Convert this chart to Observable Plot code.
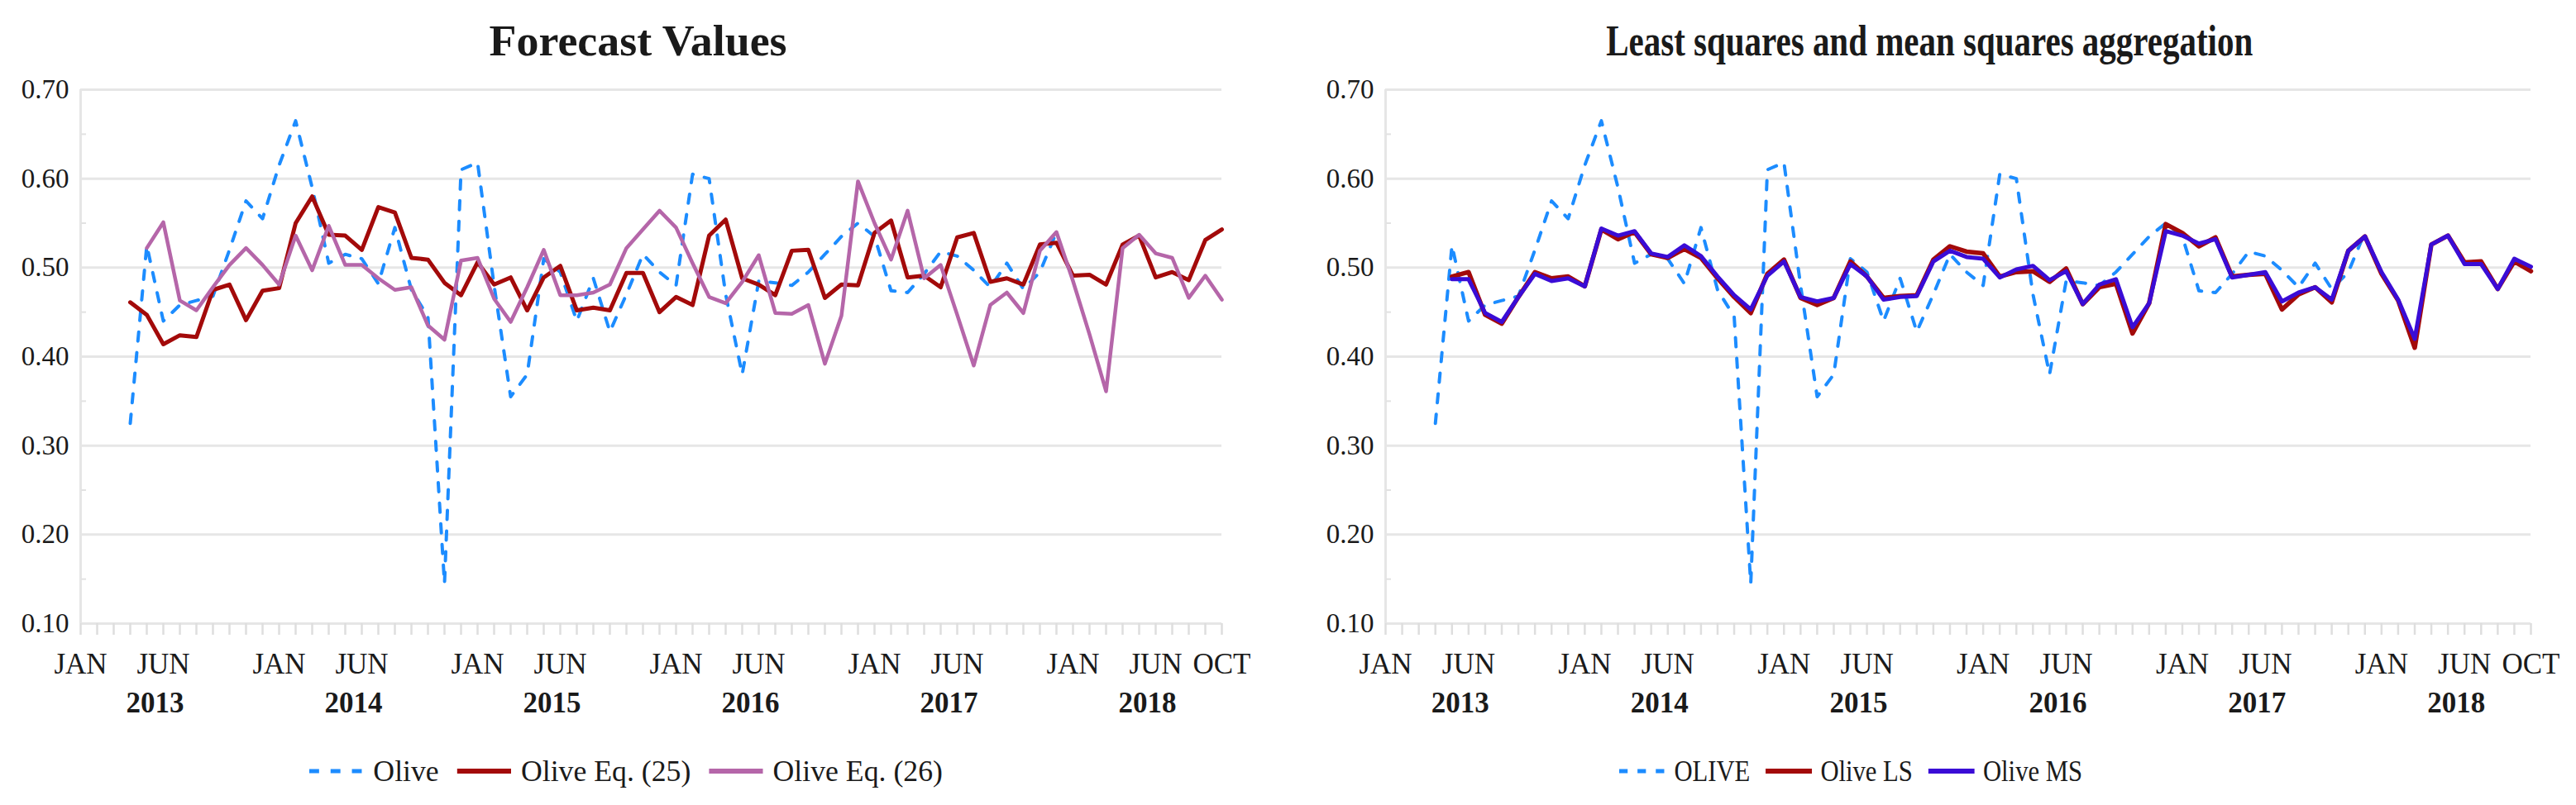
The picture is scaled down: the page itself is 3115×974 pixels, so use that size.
<!DOCTYPE html>
<html>
<head>
<meta charset="utf-8">
<script src="https://cdn.jsdelivr.net/npm/d3@7"></script>
<script src="https://cdn.jsdelivr.net/npm/@observablehq/plot@0.6"></script>
<style>
html,body{margin:0;padding:0;background:#fff;}
body{width:3115px;height:974px;position:relative;overflow:hidden;font-family:"Liberation Serif","DejaVu Serif",serif;color:#1a1a1a;}
.title{position:absolute;top:24px;font-weight:bold;font-size:52px;line-height:52px;white-space:nowrap;transform-origin:center center;}
.chart{position:absolute;top:88px;}
.legend{position:absolute;top:912px;display:flex;align-items:center;font-size:36px;line-height:42px;white-space:nowrap;transform-origin:center center;}
.legend .item{display:flex;align-items:center;margin-right:22px;}
.legend .item:last-child{margin-right:0;}
.legend svg{margin-right:12px;}
svg text{font-family:"Liberation Serif","DejaVu Serif",serif;}
</style>
</head>
<body>
<div id="t1" class="title">Forecast Values</div>
<div id="t2" class="title">Least squares and mean squares aggregation</div>
<div id="c1" class="chart" style="left:0px"></div>
<div id="c2" class="chart" style="left:1578px"></div>
<div id="l1" class="legend"></div>
<div id="l2" class="legend"></div>
<script>
// ---------- data ----------
const months = d3.utcMonths(new Date(Date.UTC(2013,0,1)), new Date(Date.UTC(2018,10,1))).map(d3.utcFormat("%Y-%m"));

const olive = [null,null,null,
 0.325,0.525,0.440,0.458,0.463,0.468,0.520,
 0.575,0.555,0.615,0.665,0.590,0.505,0.515,0.510,0.482,0.545,
 0.475,0.445,0.145,0.610,0.618,0.480,0.355,0.380,0.510,0.495,
 0.440,0.488,0.428,0.470,0.515,0.495,0.480,0.605,0.600,0.470,
 0.380,0.485,0.483,0.480,0.495,0.515,0.535,0.550,0.535,0.474,
 0.472,0.493,0.518,0.513,0.497,0.478,0.505,0.476,0.495,0.540];

const oliveEq25 = [null,null,null,
 0.461,0.447,0.414,0.424,0.422,0.475,0.481,
 0.441,0.474,0.477,0.550,0.580,0.537,0.536,0.520,0.568,0.562,
 0.511,0.509,0.483,0.469,0.506,0.481,0.489,0.452,0.489,0.502,
 0.452,0.455,0.452,0.494,0.494,0.450,0.467,0.458,0.536,0.554,
 0.488,0.481,0.469,0.519,0.520,0.466,0.481,0.480,0.539,0.553,
 0.489,0.491,0.478,0.534,0.539,0.484,0.488,0.481,0.526,0.528,
 0.491,0.492,0.481,0.526,0.536,0.489,0.495,0.486,0.531,0.543];

const oliveEq26 = [null,null,null,null,
 0.522,0.551,0.463,0.452,0.478,0.503,
 0.522,0.503,0.481,0.536,0.497,0.547,0.503,0.503,0.488,0.475,
 0.478,0.435,0.419,0.508,0.511,0.465,0.439,0.478,0.520,0.469,
 0.469,0.472,0.481,0.522,0.543,0.564,0.545,0.505,0.467,0.460,
 0.484,0.514,0.449,0.448,0.458,0.392,0.446,0.597,0.550,0.509,
 0.564,0.488,0.503,0.447,0.390,0.458,0.472,0.449,0.519,0.540,
 0.485,0.425,0.361,0.522,0.537,0.516,0.511,0.466,0.491,0.464];

const oliveLS = [null,null,null,null,
 0.490,0.495,0.447,0.437,0.467,0.495,
 0.488,0.490,0.479,0.543,0.532,0.540,0.515,0.511,0.521,0.511,
 0.488,0.467,0.449,0.493,0.509,0.466,0.458,0.466,0.507,0.490,
 0.466,0.468,0.469,0.509,0.524,0.518,0.516,0.490,0.495,0.496,
 0.484,0.499,0.459,0.478,0.482,0.426,0.460,0.549,0.539,0.524,
 0.534,0.490,0.492,0.493,0.453,0.470,0.478,0.461,0.519,0.535,
 0.493,0.463,0.410,0.526,0.536,0.506,0.507,0.476,0.507,0.496];

const oliveMS = [null,null,null,null,
 0.487,0.487,0.449,0.439,0.467,0.493,
 0.485,0.488,0.479,0.544,0.536,0.541,0.516,0.512,0.525,0.513,
 0.490,0.469,0.453,0.491,0.507,0.467,0.462,0.466,0.504,0.490,
 0.464,0.467,0.468,0.507,0.519,0.512,0.510,0.489,0.498,0.502,
 0.486,0.496,0.459,0.481,0.487,0.433,0.460,0.541,0.536,0.527,
 0.532,0.489,0.492,0.495,0.462,0.472,0.478,0.464,0.519,0.535,
 0.495,0.464,0.420,0.526,0.536,0.504,0.504,0.476,0.510,0.501];

const yTicks = [0.10,0.20,0.30,0.40,0.50,0.60,0.70];
const yMinorTicks = [0.15,0.25,0.35,0.45,0.55,0.65];
const monthTickMonths = ["2013-01","2013-06","2014-01","2014-06","2015-01","2015-06","2016-01","2016-06","2017-01","2017-06","2018-01","2018-06","2018-10"];
const monthTickLabels = ["JAN","JUN","JAN","JUN","JAN","JUN","JAN","JUN","JAN","JUN","JAN","JUN","OCT"];
const years = ["2013","2014","2015","2016","2017","2018"];

// ---------- helpers ----------
const idxOf = m => months.indexOf(m);
const rows = arr => arr.map((v,i) => ({i, month: months[i], v})).filter(d => d.v != null);
const FONT = '"Liberation Serif","DejaVu Serif",serif';
const GRID = "#e6e6e6";

function panel(width, marginRight, lines) {
  return Plot.plot({
    width, height: 786,
    marginLeft: 97, marginRight, marginTop: 20, marginBottom: 120,
    x: {type: "linear", domain: [0, months.length - 1], label: null, axis: null},
    y: {domain: [0.1, 0.7], label: null, axis: null},
    style: {fontFamily: FONT, fontSize: "33px", color: "#1a1a1a", background: "transparent", overflow: "visible"},
    marks: [
      Plot.ruleY(yTicks, {stroke: GRID, strokeWidth: 3}),
      Plot.ruleX([0], {y1: 0.1, y2: 0.7, stroke: GRID, strokeWidth: 3}),
      Plot.axisY(yMinorTicks, {anchor: "left", tickSize: 6, dx: 7, tickFormat: () => "", stroke: "#e2e2e2", strokeWidth: 2}),
      Plot.axisX(d3.range(months.length), {anchor: "bottom", tickSize: 14, tickFormat: () => "", stroke: "#dedede", strokeWidth: 2.5}),
      Plot.axisY(yTicks, {anchor: "left", tickSize: 0, tickPadding: 14, tickFormat: d3.format(".2f"), fontSize: 33, fontFamily: FONT, fill: "#1a1a1a"}),
      Plot.text(monthTickMonths, {x: d => idxOf(d), text: (d, k) => monthTickLabels[k], frameAnchor: "bottom", dy: 49, lineAnchor: "middle", fontSize: 35, fontFamily: FONT, fill: "#1a1a1a"}),
      Plot.text(years, {x: d => idxOf(d + "-01") + 4.5, text: d => d, frameAnchor: "bottom", dy: 96, lineAnchor: "middle", fontSize: 35, fontFamily: FONT, fontWeight: "bold", fill: "#1a1a1a"}),
      ...lines
    ]
  });
}

const dashed = (arr, color) => Plot.line(rows(arr), {x: "i", y: "v", stroke: color, strokeWidth: 4, strokeDasharray: "11,14", strokeLinejoin: "round"});
const solid = (arr, color, w) => Plot.line(rows(arr), {x: "i", y: "v", stroke: color, strokeWidth: w, strokeLinejoin: "round"});

const BLUE = "#1C8CFF", RED = "#A30A0A", PINK = "#B566A9", VIOLET = "#3A0CD6";

document.getElementById("c1").append(panel(1557, 80, [
  dashed(olive, BLUE),
  solid(oliveEq25, RED, 5),
  solid(oliveEq26, PINK, 4.5)
]));
document.getElementById("c2").append(panel(1537, 55, [
  dashed(olive, BLUE),
  solid(oliveLS, RED, 5.5),
  solid(oliveMS, VIOLET, 5)
]));

// ---------- legends ----------
function legend(id, items) {
  const el = document.getElementById(id);
  for (const it of items) {
    const item = document.createElement("div");
    item.className = "item";
    const dash = it.dash ? `stroke-dasharray="12,14"` : "";
    item.innerHTML = `<svg width="66" height="12"><line x1="0" y1="6" x2="66" y2="6" stroke="${it.color}" stroke-width="${it.w}" ${dash}/></svg><span>${it.label}</span>`;
    el.append(item);
  }
}
legend("l1", [
  {label: "Olive", color: BLUE, w: 5, dash: true},
  {label: "Olive Eq. (25)", color: RED, w: 6},
  {label: "Olive Eq. (26)", color: PINK, w: 6}
]);
legend("l2", [
  {label: "OLIVE", color: BLUE, w: 5, dash: true},
  {label: "Olive LS", color: RED, w: 6},
  {label: "Olive MS", color: VIOLET, w: 6}
]);

// ---------- centred, width-fitted title / legend blocks ----------
function place(id, cx, target) {
  const el = document.getElementById(id);
  const w = el.getBoundingClientRect().width;
  el.style.left = (cx - w / 2) + "px";
  if (target) el.style.transform = `scaleX(${target / w})`;
}
place("t1", 772, 360);
place("t2", 2333, 782);
place("l1", 757, 766);
place("l2", 2238, 560);
</script>
</body>
</html>
